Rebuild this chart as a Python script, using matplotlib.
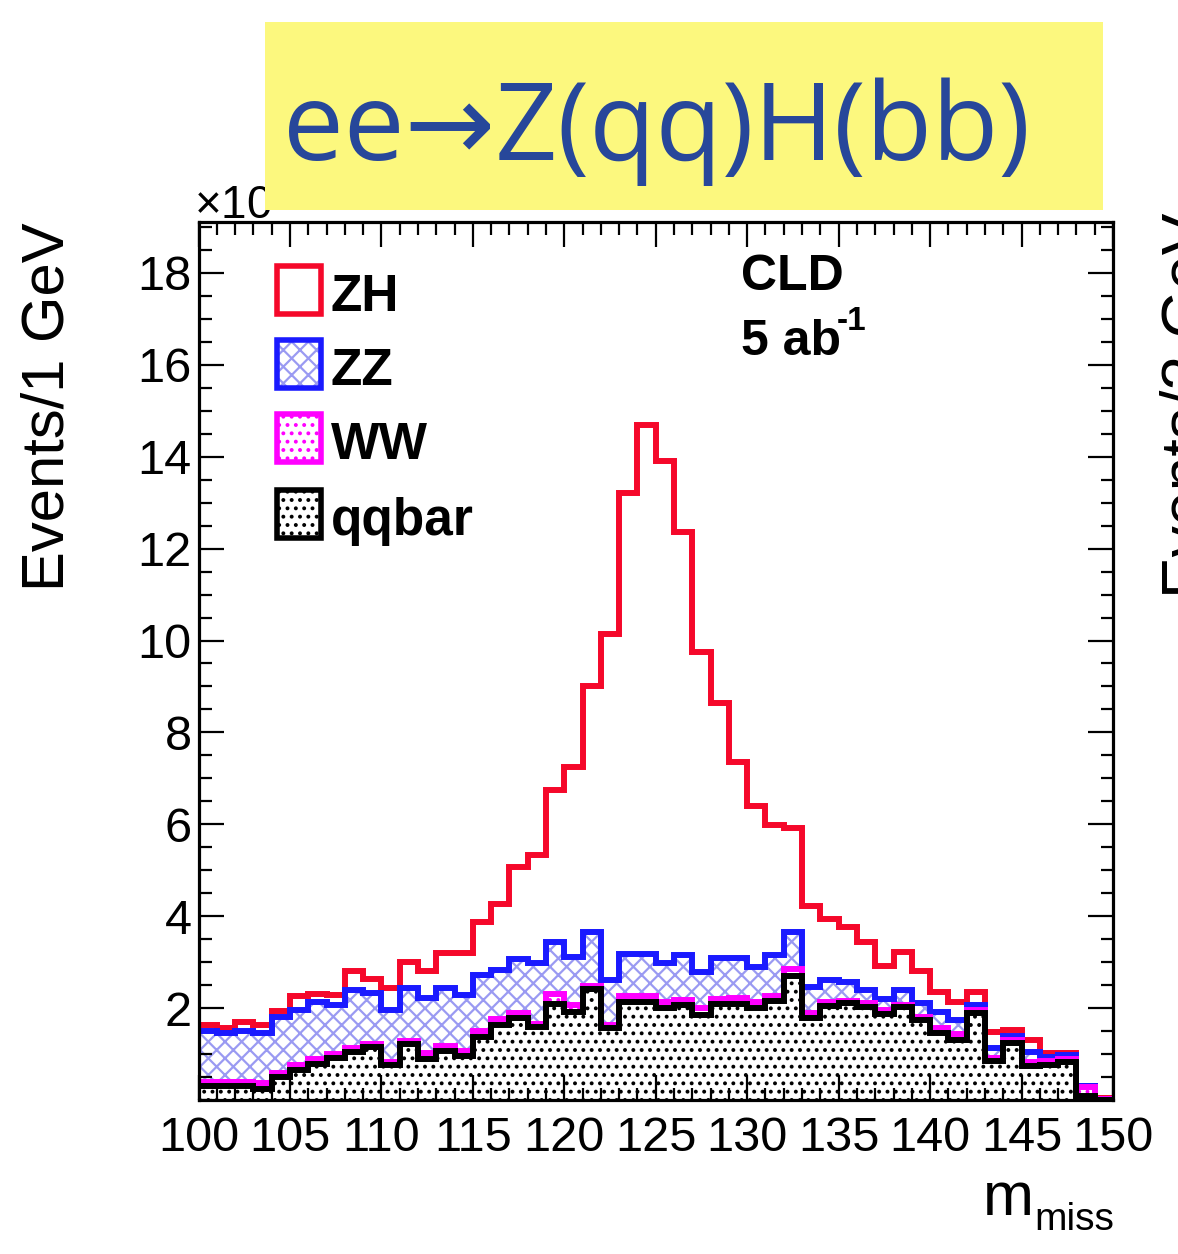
import numpy as np
import matplotlib
matplotlib.use('Agg')
import matplotlib.pyplot as plt
from matplotlib.patches import Rectangle
from matplotlib.ticker import MultipleLocator

# ---------------- data (events per 1 GeV, in units of 10^3) ----------------
bin_edges = list(range(100, 151))
qqbar = [0.32, 0.32, 0.32, 0.25, 0.50, 0.67, 0.79, 0.93, 1.05, 1.17,
         0.77, 1.22, 0.90, 1.07, 0.97, 1.37, 1.64, 1.80, 1.60, 2.10,
         1.93, 2.43, 1.57, 2.15, 2.15, 2.02, 2.08, 1.86, 2.10, 2.10,
         2.02, 2.17, 2.70, 1.79, 2.05, 2.11, 2.04, 1.88, 2.04, 1.75,
         1.46, 1.32, 1.90, 0.85, 1.24, 0.74, 0.77, 0.83, 0.10, 0.00]
ww = [0.09, 0.09, 0.09, 0.12, 0.09, 0.10, 0.10, 0.08, 0.10, 0.05,
      0.06, 0.08, 0.13, 0.12, 0.10, 0.14, 0.13, 0.11, 0.07, 0.21,
      0.14, 0.06, 0.07, 0.13, 0.13, 0.12, 0.10, 0.14, 0.11, 0.12,
      0.12, 0.11, 0.15, 0.11, 0.08, 0.06, 0.07, 0.09, 0.04, 0.07,
      0.11, 0.13, 0.07, 0.08, 0.07, 0.09, 0.08, 0.07, 0.19, 0.02]
zz = [1.09, 1.05, 1.09, 1.09, 1.23, 1.20, 1.26, 1.07, 1.24, 1.12,
      1.14, 1.14, 1.19, 1.25, 1.22, 1.21, 1.07, 1.16, 1.31, 1.14,
      1.05, 1.18, 0.98, 0.90, 0.91, 0.84, 0.98, 0.80, 0.88, 0.87,
      0.77, 0.88, 0.82, 0.57, 0.49, 0.41, 0.29, 0.23, 0.32, 0.29,
      0.36, 0.30, 0.11, 0.21, 0.08, 0.23, 0.10, 0.08, 0.02, 0.01]
zh = [0.14, 0.12, 0.21, 0.18, 0.13, 0.29, 0.16, 0.21, 0.43, 0.31,
      0.48, 0.56, 0.59, 0.76, 0.91, 1.16, 1.43, 2.00, 2.35, 3.29,
      4.12, 5.35, 7.53, 10.02, 11.49, 10.92, 9.19, 6.95, 5.56, 4.26,
      3.50, 2.82, 2.25, 1.76, 1.33, 1.19, 1.05, 0.72, 0.83, 0.70,
      0.43, 0.38, 0.28, 0.34, 0.14, 0.26, 0.08, 0.05, 0.00, 0.02]
labels = ["ZH", "ZZ", "WW", "qqbar"]
y_ticks = [2, 4, 6, 8, 10, 12, 14, 16, 18]
x_ticks = [100, 105, 110, 115, 120, 125, 130, 135, 140, 145, 150]

# ---------------- style ----------------
RED = '#f5082a'
BLUE = '#1a1aff'
HATCHBLUE = '#9a9af2'
MAG = '#ff00ff'
FONT = 'Liberation Sans'
plt.rcParams['font.family'] = [FONT, 'DejaVu Sans']
plt.rcParams['hatch.linewidth'] = 1.6

W, H = 1178, 1254
fig = plt.figure(figsize=(W / 100, H / 100), dpi=100)


def P(x, y):
    return (x / W, 1 - y / H)


AX_L, AX_R, AX_T, AX_B = 198.5, 1113, 222, 1100.4
ax = fig.add_axes([AX_L / W, 1 - AX_B / H, (AX_R - AX_L) / W, (AX_B - AX_T) / H])

edges = np.array(bin_edges, dtype=float)
c1 = np.array(qqbar)
c2 = c1 + np.array(ww)
c3 = c2 + np.array(zz)
c4 = c3 + np.array(zh)

LW = 4.3
ax.stairs(c3, edges, baseline=c2, fill=True, facecolor='white',
          edgecolor=HATCHBLUE, hatch='xx', lw=0, zorder=1)
ax.stairs(c2, edges, baseline=c1, fill=True, facecolor='white',
          edgecolor=MAG, hatch='..', lw=0, zorder=1)
ax.stairs(c1, edges, baseline=0, fill=True, facecolor='white',
          edgecolor='black', hatch='..', lw=0, zorder=1)
for vals, col, z in [(c4, RED, 2), (c3, BLUE, 3), (c2, MAG, 4), (c1, 'black', 5)]:
    sp = ax.stairs(vals, edges, baseline=None, color=col, lw=LW, zorder=z)
    sp.set_joinstyle('miter')

ax.set_xlim(100, 150)
ax.set_ylim(0, 19.1)
ax.set_xticks(x_ticks)
ax.set_xticklabels([str(v) for v in x_ticks])
ax.xaxis.set_minor_locator(MultipleLocator(1))
ax.set_yticks(y_ticks)
ax.set_yticklabels([str(v) for v in y_ticks])
ax.yaxis.set_minor_locator(MultipleLocator(0.5))
ax.tick_params(which='both', direction='in', top=True, right=True, width=1.6,
               color='black', zorder=10)
ax.tick_params(which='major', length=18)
ax.tick_params(which='minor', length=9)
ax.tick_params(axis='x', which='major', labelsize=35, pad=11)
ax.tick_params(axis='y', which='major', labelsize=35, pad=5)
for s in ax.spines.values():
    s.set_linewidth(2.3)
    s.set_zorder(11)
ax.set_axisbelow(False)

# axis titles
fig.text(*P(48, 222), "Events/1 GeV", rotation=90, ha='center', va='top',
         fontsize=43, family=FONT)
fig.text(*P(983, 1215), "m", ha='left', va='baseline', fontsize=44, family=FONT)
fig.text(*P(1114, 1230), "miss", ha='right', va='baseline', fontsize=28, family=FONT)

# exponent (partly hidden by the title box)
fig.text(*P(194, 218), "\u00d710$^{3}$", ha='left', va='baseline', fontsize=33,
         family=FONT, zorder=1)

# partial label of the neighbouring panel (cut by the right edge, as in the source)
fig.text(*P(1160, 598), "Events/2 GeV", rotation=90, ha='left', va='bottom',
         fontsize=45, family=FONT)

# CLD label
fig.text(*P(741, 290), "CLD", ha='left', va='baseline', fontsize=36,
         fontweight='bold', family=FONT)
fig.text(*P(741, 355), "5 ab", ha='left', va='baseline', fontsize=36,
         fontweight='bold', family=FONT)
fig.text(*P(837, 330), "-1", ha='left', va='baseline', fontsize=24,
         fontweight='bold', family=FONT)

# legend
box_x0, box_w, box_h = 277, 44, 48
rows_y = [266, 340, 414, 490]
styles = [
    dict(face='white', hatch=None, hcol=None, edge=RED),
    dict(face='white', hatch='xx', hcol=HATCHBLUE, edge=BLUE),
    dict(face='white', hatch='..', hcol=MAG, edge=MAG),
    dict(face='white', hatch='..', hcol='black', edge='black'),
]
for lab, y0, st in zip(labels, rows_y, styles):
    x, y = P(box_x0, y0 + box_h)
    w, h = box_w / W, box_h / H
    if st['hatch']:
        fig.add_artist(Rectangle((x, y), w, h, transform=fig.transFigure,
                                 facecolor=st['face'], edgecolor=st['hcol'],
                                 hatch=st['hatch'], lw=0, zorder=5))
    fig.add_artist(Rectangle((x, y), w, h, transform=fig.transFigure,
                             facecolor='none', edgecolor=st['edge'], lw=4,
                             joinstyle='miter', zorder=6))
    fig.text(*P(331, y0 + box_h / 2 + 2), lab, ha='left', va='center_baseline',
             fontsize=37, fontweight='bold', family=FONT, zorder=6)

# title box
fig.add_artist(Rectangle(P(265, 210), (1103 - 265) / W, (210 - 22) / H,
                         transform=fig.transFigure, facecolor='#fcf87e',
                         edgecolor='none', zorder=20))
fig.text(*P(657, 160), "ee\u2192Z(qq)H(bb)", ha='center', va='baseline',
         fontsize=78, color='#27479a', family=['Open Sans', 'DejaVu Sans'],
         zorder=21)

fig.savefig('out.png', dpi=100)
